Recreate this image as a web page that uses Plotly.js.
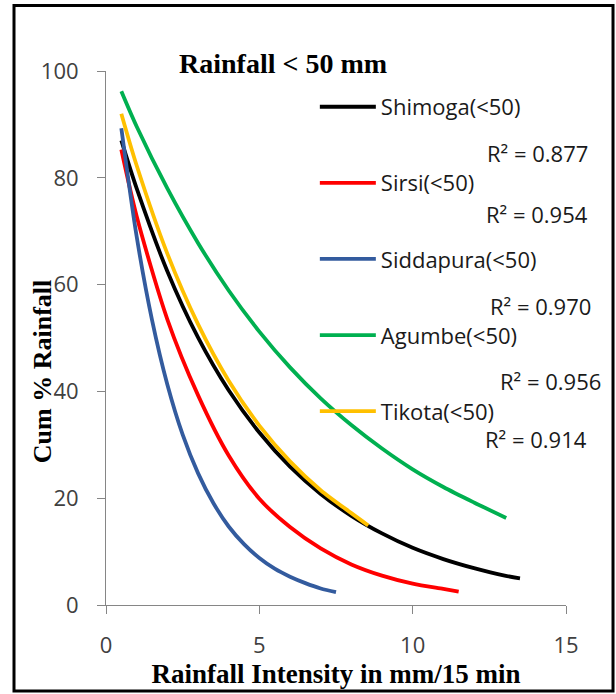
<!DOCTYPE html>
<html>
<head>
<meta charset="utf-8">
<script src="https://cdn.plot.ly/plotly-3.0.1.min.js"></script>
<style>html,body{margin:0;padding:0;background:#fff;}#chart{width:616px;height:694px;}</style>
</head>
<body>
<div id="chart"></div>
<script>
// Series
const seriesNames = ["Shimoga(&lt;50)", "Sirsi(&lt;50)", "Siddapura(&lt;50)", "Agumbe(&lt;50)", "Tikota(&lt;50)"];
const shimogaX = [0.5, 1, 2, 3, 4, 5, 6, 7, 8, 9, 10, 11, 12, 13, 13.5];
const shimogaY = [87, 78, 62.5, 50.1, 40.2, 32.3, 25.9, 20.8, 16.7, 13.4, 10.7, 8.6, 6.9, 5.5, 5.0];
const sirsiX = [0.5, 1, 2, 3, 4, 5, 6, 7, 8, 9, 10, 11, 11.5];
const sirsiY = [85.3, 72.8, 53.5, 39.3, 28.0, 19.9, 14.6, 10.6, 7.6, 5.5, 4.0, 3.0, 2.5];
const siddapuraX = [0.5, 1, 1.5, 2, 2.5, 3, 3.5, 4, 4.5, 5, 5.5, 6, 6.5, 7, 7.5];
const siddapuraY = [89.3, 69.0, 53.4, 41.3, 31.9, 24.7, 19.1, 14.7, 11.4, 8.8, 6.8, 5.3, 4.1, 3.1, 2.4];
const agumbeX = [0.5, 1, 2, 3, 4, 5, 6, 7, 8, 9, 10, 11, 12, 13.05];
const agumbeY = [96.2, 89.6, 78.0, 67.8, 58.9, 51.2, 44.5, 38.7, 33.7, 29.3, 25.4, 22.1, 19.2, 16.3];
const tikotaX = [0.5, 1, 2, 3, 4, 5, 6, 7, 8, 8.55];
const tikotaY = [92.0, 82.3, 65.8, 52.6, 42.0, 33.6, 26.9, 21.5, 17.2, 14.9];
const r2Labels = ["R² = 0.877", "R² = 0.954", "R² = 0.970", "R² = 0.956", "R² = 0.914"];
const xTicks = [0, 5, 10, 15];
const yTicks = [0, 20, 40, 60, 80, 100];

const colors = ["#000000", "#FF0000", "#335B9E", "#00B050", "#FFC000"];
const xs = [shimogaX, sirsiX, siddapuraX, agumbeX, tikotaX];
const ys = [shimogaY, sirsiY, siddapuraY, agumbeY, tikotaY];

const sans = "Open Sans, Noto Sans, sans-serif";
const serif = "Liberation Serif, serif";

const traces = seriesNames.map((n, i) => ({
  type: "scatter", mode: "lines", name: n,
  x: xs[i], y: ys[i],
  line: {color: colors[i], width: 3.8, shape: "spline", smoothing: 0.8},
  legendgroup: "g" + i,
  hoverinfo: "skip"
}));

const r2Pos = [[12.36, 84.7], [12.33, 73.2], [12.46, 55.9], [12.78, 41.9], [12.29, 31.0]];
const annotations = r2Labels.map((t, i) => ({
  text: t, x: r2Pos[i][0], y: r2Pos[i][1], xref: "x", yref: "y",
  xanchor: "left", yanchor: "middle", showarrow: false,
  font: {family: sans, size: 22, color: "#1a1a1a"}
}));
annotations.push({
  text: "Cum % Rainfall", textangle: -90, xref: "paper", yref: "paper",
  x: -0.138, y: 0.437, xanchor: "center", yanchor: "middle", showarrow: false,
  font: {family: serif, size: 26, color: "#000", weight: "bold"}
});

const layout = {
  width: 616, height: 694,
  margin: {l: 106, r: 50, t: 71, b: 89},
  paper_bgcolor: "#fff", plot_bgcolor: "#fff",
  showlegend: true,
  title: {
    text: "Rainfall &lt; 50 mm", xref: "container", yref: "container",
    x: 0.2906, xanchor: "left", y: 0.909, yanchor: "middle",
    font: {family: serif, size: 28, color: "#000", weight: "bold"}
  },
  xaxis: {
    range: [0, 15], tickvals: xTicks, ticktext: xTicks.map(String),
    showgrid: false, zeroline: false, showline: true, linecolor: "#868686", linewidth: 1,
    ticks: "outside", ticklen: 8, tickcolor: "#868686",
    ticklabelstandoff: 13,
    tickfont: {family: sans, size: 22, color: "#404040"},
    title: {text: "Rainfall Intensity in mm/15 min", standoff: 4,
            font: {family: serif, size: 27, color: "#000", weight: "bold"}},
    fixedrange: true
  },
  yaxis: {
    range: [0, 100], tickvals: yTicks, ticktext: yTicks.map(String),
    showgrid: false, zeroline: false, showline: true, linecolor: "#868686", linewidth: 1,
    ticks: "outside", ticklen: 8, tickcolor: "#868686",
    ticklabelstandoff: 14,
    tickfont: {family: sans, size: 22, color: "#404040"},
    fixedrange: true
  },
  legend: {
    x: 0.454, y: 0.972, xanchor: "left", yanchor: "top",
    xref: "paper", yref: "paper",
    bgcolor: "rgba(0,0,0,0)", borderwidth: 0,
    font: {family: sans, size: 22, color: "#1a1a1a"},
    tracegroupgap: 44.5, itemwidth: 56,
    traceorder: "grouped"
  },
  annotations: annotations,
  shapes: [{
    type: "rect", xref: "paper", yref: "paper",
    x0: -0.2, x1: 1.1022, y0: -0.161, y1: 1.1227,
    line: {color: "#000", width: 3}, fillcolor: "rgba(0,0,0,0)", layer: "above"
  }]
};

Plotly.newPlot("chart", traces, layout, {displayModeBar: false, staticPlot: true});
</script>
</body>
</html>
